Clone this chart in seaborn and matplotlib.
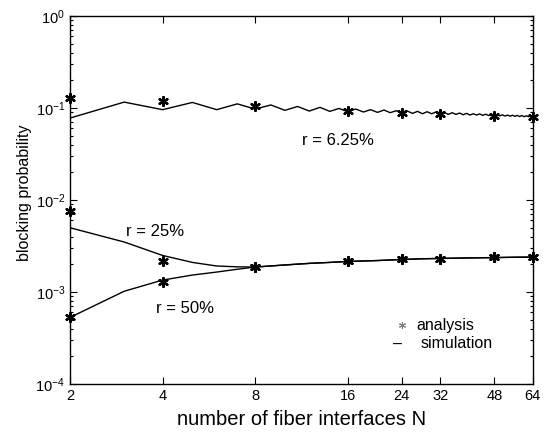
import numpy as np
import pandas as pd
import seaborn as sns
import matplotlib.pyplot as plt
from matplotlib.ticker import LogLocator, NullLocator, FixedLocator, FixedFormatter

# simulation, r = 6.25%  (every N from 2 to 64)
n_sim_625 = list(range(2, 65))
sim_625 = [0.0778, 0.116, 0.096, 0.115, 0.096, 0.111, 0.0975, 0.108, 0.0944, 0.104,
           0.0927, 0.1017, 0.092, 0.099, 0.0912, 0.0975, 0.0905, 0.096, 0.0897, 0.0951,
           0.089, 0.0935, 0.0882, 0.0927, 0.0875, 0.092, 0.0867, 0.0912, 0.0867, 0.0905,
           0.086, 0.0897, 0.0853, 0.089, 0.0853, 0.0882, 0.0846, 0.0875, 0.0839, 0.0867,
           0.0839, 0.0864, 0.0832, 0.0857, 0.0829, 0.0853, 0.0825, 0.0846, 0.0822, 0.0843,
           0.0818, 0.0839, 0.0815, 0.0836, 0.0811, 0.0832, 0.0808, 0.0829, 0.0804, 0.0825,
           0.0804, 0.0822, 0.0798]

# simulation, r = 25% and r = 50%
n_sim = [2, 3, 4, 5, 6, 7, 8, 10, 12, 14, 16, 20, 24, 28, 32, 40, 48, 56, 64]
sim_25 = [0.0050, 0.0035, 0.0025, 0.0021, 0.00192, 0.00188, 0.00187, 0.00197, 0.00205,
          0.0021, 0.00215, 0.0022, 0.00226, 0.0023, 0.00232, 0.00235, 0.00237, 0.00239, 0.0024]
sim_50 = [0.00053, 0.00102, 0.00135, 0.00153, 0.00165, 0.00177, 0.00187, 0.00197, 0.00205,
          0.0021, 0.00215, 0.0022, 0.00226, 0.0023, 0.00232, 0.00235, 0.00237, 0.00239, 0.0024]

# analysis points
n_ana = [2, 4, 8, 16, 24, 32, 48, 64]
ana_625 = [0.13, 0.12, 0.105, 0.093, 0.088, 0.086, 0.082, 0.080]
ana_25 = [0.0076, 0.0022, 0.00187, 0.0022, 0.0023, 0.0023, 0.0024, 0.0024]
ana_50 = [0.00053, 0.00128, 0.00187, 0.0022, 0.0023, 0.0023, 0.0024, 0.0024]

x_ticks = [2, 4, 8, 16, 24, 32, 48, 64]

sns.set_style("ticks")
plt.rcParams['font.family'] = ['Liberation Sans', 'DejaVu Sans']
plt.rcParams['text.color'] = 'black'
plt.rcParams['axes.labelcolor'] = 'black'

fig = plt.figure(figsize=(5.47, 4.33), dpi=100)
ax = fig.add_axes([0.128, 0.113, 0.846, 0.850])

star = (6, 2, 0)
for n, vals in [(n_sim_625, sim_625), (n_sim, sim_25), (n_sim, sim_50)]:
    sns.lineplot(x=n, y=vals, color='black', lw=1.0, ax=ax)
for vals in [ana_625, ana_25, ana_50]:
    sns.scatterplot(x=n_ana, y=vals, marker=star, s=40, color='black',
                    edgecolor='black', linewidth=1.7, ax=ax, zorder=3, clip_on=False)

ax.set_xscale('log', base=2)
ax.set_yscale('log')
ax.set_xlim(2, 64)
ax.set_ylim(1e-4, 1)

ax.xaxis.set_major_locator(FixedLocator(x_ticks))
ax.xaxis.set_major_formatter(FixedFormatter([str(t) for t in x_ticks]))
ax.xaxis.set_minor_locator(NullLocator())
ax.yaxis.set_major_locator(LogLocator(base=10, numticks=10))
ax.yaxis.set_minor_locator(LogLocator(base=10, subs=np.arange(2, 10), numticks=10))

ax.tick_params(which='both', direction='in', top=True, right=True, colors='black',
               labelcolor='black', labelsize=10.5, width=0.8)
ax.tick_params(which='major', length=5)
ax.tick_params(which='minor', length=2.5)
for sp in ax.spines.values():
    sp.set_visible(True)
    sp.set_linewidth(1.0)
    sp.set_color('black')

ax.set_xlabel('number of fiber interfaces N', fontsize=14.5, labelpad=5)
ax.set_ylabel('blocking probability', fontsize=11.5)
ax.yaxis.set_label_coords(-0.082, 0.52)

ax.text(14.9, 0.044, 'r = 6.25%', fontsize=12, ha='center', va='center')
ax.text(3.78, 0.0045, 'r = 25%', fontsize=12, ha='center', va='center')
ax.text(4.72, 0.00067, 'r = 50%', fontsize=12, ha='center', va='center')

# legend, drawn the way the original one looks
ax.plot([0.717], [0.160], transform=ax.transAxes, marker=star, ls='none',
        color='gray', ms=5, mew=0.8, clip_on=False)
ax.text(0.749, 0.160, 'analysis', transform=ax.transAxes, fontsize=11.5,
        ha='left', va='center')
ax.text(0.708, 0.109, '–', transform=ax.transAxes, fontsize=11.5,
        ha='center', va='center')
ax.text(0.758, 0.109, 'simulation', transform=ax.transAxes, fontsize=11.5,
        ha='left', va='center')

fig.savefig('out.png', dpi=100)
